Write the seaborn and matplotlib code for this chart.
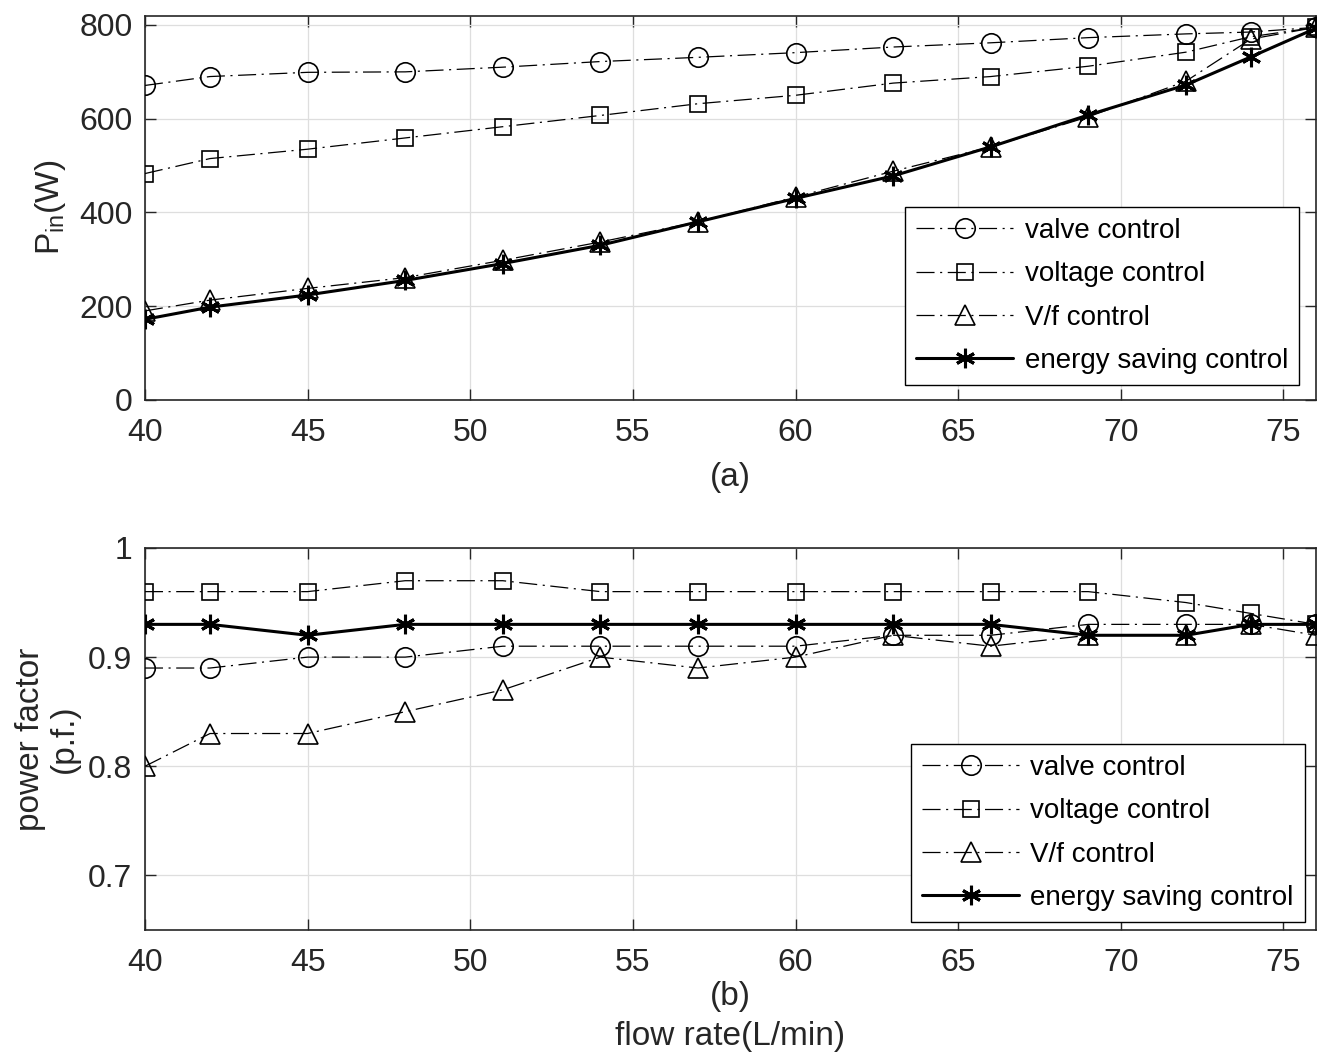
import numpy as np
import pandas as pd
import matplotlib
matplotlib.use("Agg")
import matplotlib.pyplot as plt
import seaborn as sns
from matplotlib.ticker import FuncFormatter

# ---------------- data ----------------
flow = [40, 42, 45, 48, 51, 54, 57, 60, 63, 66, 69, 72, 74, 76]

pin_valve   = [671, 690, 699, 700, 710, 722, 731, 741, 753, 762, 773, 781, 785, 795]
pin_voltage = [483, 515, 535, 559, 583, 607, 632, 650, 676, 690, 712, 742, 775, 795]
pin_vf      = [190, 213, 238, 261, 298, 337, 380, 433, 488, 540, 604, 680, 770, 795]
pin_energy  = [172, 198, 224, 255, 291, 330, 380, 430, 478, 540, 608, 672, 732, 793]

pf_valve   = [0.89, 0.89, 0.90, 0.90, 0.91, 0.91, 0.91, 0.91, 0.92, 0.92, 0.93, 0.93, 0.93, 0.93]
pf_voltage = [0.96, 0.96, 0.96, 0.97, 0.97, 0.96, 0.96, 0.96, 0.96, 0.96, 0.96, 0.95, 0.94, 0.93]
pf_vf      = [0.80, 0.83, 0.83, 0.85, 0.87, 0.90, 0.89, 0.90, 0.92, 0.91, 0.92, 0.92, 0.93, 0.92]
pf_energy  = [0.93, 0.93, 0.92, 0.93, 0.93, 0.93, 0.93, 0.93, 0.93, 0.93, 0.92, 0.92, 0.93, 0.93]

labels = ["valve control", "voltage control", "V/f control", "energy saving control"]
x_ticks = [40, 45, 50, 55, 60, 65, 70, 75]
pin_ticks = [0, 200, 400, 600, 800]
pf_ticks = [0.7, 0.8, 0.9, 1.0]

# ---------------- style ----------------
sns.set_theme(style="white")
TXT = "#262626"
plt.rcParams.update({
    "font.family": ["Liberation Sans", "DejaVu Sans"],
    "mathtext.fontset": "custom",
    "mathtext.rm": "Liberation Sans",
    "mathtext.it": "Liberation Sans",
    "lines.scale_dashes": False,
    "text.color": TXT,
    "axes.labelcolor": TXT,
    "xtick.color": TXT,
    "ytick.color": TXT,
    "axes.edgecolor": TXT,
})

fig = plt.figure(figsize=(13.25, 10.55), dpi=100)
ax1 = fig.add_axes([0.1094, 0.6209, 0.8838, 0.3643])
ax2 = fig.add_axes([0.1094, 0.1185, 0.8838, 0.3621])

DASHDOT = (0, (13, 4, 1.5, 4))
MS = 14
star = (6, 2, 0)

def draw(ax, ys):
    styles = [
        dict(marker="o", markersize=MS, linestyle=DASHDOT, linewidth=0.9, mew=1.2),
        dict(marker="s", markersize=11, linestyle=DASHDOT, linewidth=0.9, mew=1.2),
        dict(marker="^", markersize=MS, linestyle=DASHDOT, linewidth=0.9, mew=1.2),
        dict(marker=star, markersize=MS, linestyle="-", linewidth=2.2, mew=2.2),
    ]
    for y, lab, st in zip(ys, labels, styles):
        df = pd.DataFrame({"flow": flow, "val": y})
        sns.lineplot(data=df, x="flow", y="val", ax=ax, color="black",
                     mfc="none", mec="black", label=lab, zorder=3,
                     **st)

draw(ax1, [pin_valve, pin_voltage, pin_vf, pin_energy])
draw(ax2, [pf_valve, pf_voltage, pf_vf, pf_energy])

for ax in (ax1, ax2):
    ax.set_xlim(40, 76)
    ax.set_xticks(x_ticks)
    ax.grid(True, color="#dedede", linewidth=0.9)
    ax.set_axisbelow(True)
    ax.tick_params(direction="in", top=True, right=True, length=8, width=1.0,
                   labelsize=23, bottom=True, left=True)
    ax.tick_params(axis="x", pad=13)
    ax.tick_params(axis="y", pad=9)
    for sp in ax.spines.values():
        sp.set_linewidth(1.2)
        sp.set_color(TXT)

ax1.set_ylim(0, 820)
ax1.set_yticks(pin_ticks)
ax2.set_ylim(0.65, 1.0)
ax2.set_yticks(pf_ticks)
ax2.yaxis.set_major_formatter(FuncFormatter(lambda v, p: f"{v:g}"))

ax1.set_ylabel(r"P$_{\mathrm{in}}$(W)", fontsize=24, labelpad=8)
ax2.set_ylabel("power factor\n(p.f.)", fontsize=24, labelpad=6, linespacing=1.1)
ax1.set_xlabel("(a)", fontsize=24, labelpad=10)
ax2.set_xlabel("(b)\nflow rate(L/min)", fontsize=24, labelpad=2, linespacing=1.4)

leg_kw = dict(loc="lower right", fontsize=20, frameon=True, fancybox=False,
              framealpha=1, edgecolor="black", handlelength=3.5,
              handletextpad=0.4, labelspacing=0.62, borderpad=0.4,
              borderaxespad=0)
l1 = ax1.legend(bbox_to_anchor=(0.9855, 0.039), **leg_kw)
l2 = ax2.legend(bbox_to_anchor=(0.9906, 0.021), **leg_kw)
for lg in (l1, l2):
    lg.get_frame().set_linewidth(1.0)
    for t in lg.get_texts():
        t.set_color("black")

fig.savefig("out.png", dpi=100)
